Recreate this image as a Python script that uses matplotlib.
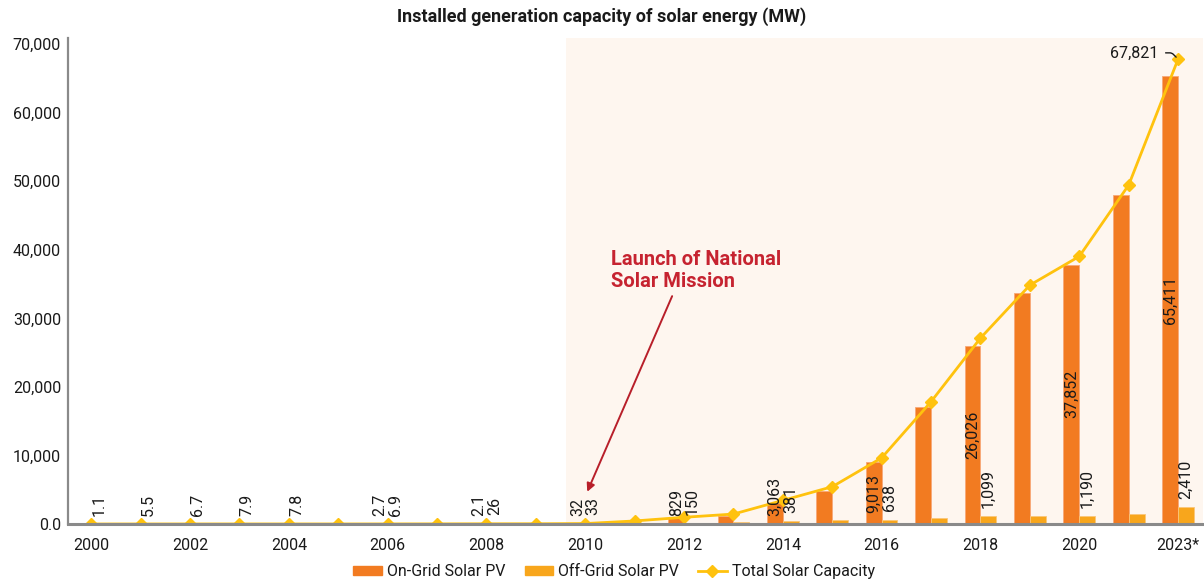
import matplotlib

matplotlib.use("Agg")
import matplotlib.pyplot as plt
import numpy as np
from matplotlib.lines import Line2D
from matplotlib.patches import Patch
from matplotlib.ticker import FuncFormatter

plt.rcParams["font.family"] = ["Roboto", "DejaVu Sans"]

# one slot per year 2000..2022, last one reported as 2023*
years = ["2000", "2001", "2002", "2003", "2004", "2005", "2006", "2007",
         "2008", "2009", "2010", "2011", "2012", "2013", "2014", "2015",
         "2016", "2017", "2018", "2019", "2020", "2021", "2023*"]
on_grid = [0, 0, 0, 0, 0, 0, 2.7, 2.5, 2.1, 3, 32, 360, 829, 1200, 3063,
           4880, 9013, 17000, 26026, 33700, 37852, 48000, 65411]
off_grid = [1.1, 5.5, 6.7, 7.9, 7.8, 5, 6.9, 15, 26, 30, 33, 85, 150, 250,
            381, 560, 638, 850, 1099, 1150, 1190, 1450, 2410]
# which values get printed on the chart
on_labelled = [6, 8, 10, 12, 14, 16, 18, 20, 22]
off_labelled = [0, 1, 2, 3, 4, 6, 8, 10, 12, 14, 16, 18, 20, 22]
mission_year = "2010"

ON_C = "#F27B21"
OFF_C = "#F8A61C"
LINE_C = "#FFC20E"
SHADE_C = "#FEF6EF"
RED = "#C62330"
TXT = "#1a1a1a"
FS = 11.5

x = np.arange(len(years))
on = np.array(on_grid, dtype=float)
off = np.array(off_grid, dtype=float)
total = on + off
w = 0.32


def fmt(v):
    return f"{v:.1f}" if v < 10 else f"{v:,.0f}"


fig = plt.figure(figsize=(12.04, 5.83), dpi=100, facecolor="white")
ax = fig.add_axes([0.0565, 0.1012, 0.9425, 0.8336])

i_mission = years.index(mission_year)
ax.axvspan(i_mission - 0.38, len(years), color=SHADE_C, zorder=0, lw=0)

ax.bar(x - w / 2, on, w, color=ON_C, edgecolor="#F7A878", linewidth=0.6, zorder=2)
ax.bar(x + w / 2, off, w, color=OFF_C, edgecolor="#FBC77A", linewidth=0.6, zorder=2)
ax.plot(x, total, color=LINE_C, lw=2, marker="D", ms=6.5, zorder=3)

# on-grid values: centred inside tall bars, otherwise just above the axis
for i in on_labelled:
    v = on[i]
    if v > 5000:
        ax.text(x[i] - w / 2, v / 2, fmt(v), rotation=90, ha="center", va="center",
                fontsize=FS, color=TXT, zorder=4)
    else:
        ax.annotate(fmt(v), (x[i] - w / 2, 0), xytext=(0, 6), textcoords="offset points",
                    rotation=90, ha="center", va="bottom", fontsize=FS, color=TXT, zorder=4)

for i in off_labelled:
    v = off[i]
    ax.annotate(fmt(v), (x[i] + w / 2, v), xytext=(0, 6), textcoords="offset points",
                rotation=90, ha="center", va="bottom", fontsize=FS, color=TXT, zorder=4)

# latest total with a small hooked leader
ax.annotate(fmt(total[-1]), (x[-1], total[-1]), xytext=(-14, 4.5), textcoords="offset points",
            ha="right", va="center", fontsize=FS, color=TXT, zorder=4,
            arrowprops=dict(arrowstyle="-", color=TXT, lw=1, shrinkA=3, shrinkB=2,
                            relpos=(1.0, 0.5),
                            connectionstyle="angle,angleA=0,angleB=135,rad=2"))

ax.annotate("Launch of National\nSolar Mission", xy=(i_mission + 0.04, 4700),
            xytext=(i_mission + 0.53, 40000), ha="left", va="top",
            fontsize=14.5, fontweight="bold", color=RED, linespacing=1.2,
            arrowprops=dict(arrowstyle="-|>", color="#B81F2A", lw=1.4, mutation_scale=12,
                            shrinkA=2, shrinkB=0, relpos=(0.37, 0.0)),
            zorder=5)

ax.set_xlim(-0.47, 22.5)
ax.set_ylim(0, 70900)
ax.set_yticks(np.arange(0, 70001, 10000))
ax.yaxis.set_major_formatter(FuncFormatter(lambda v, _p: "0.0" if v == 0 else f"{v:,.0f}"))
ax.set_xticks(x[::2])
ax.set_xticklabels(years[::2])
ax.tick_params(axis="both", length=0, labelsize=FS, colors=TXT)
ax.tick_params(axis="x", pad=10)
ax.tick_params(axis="y", pad=5)

for side in ("top", "right"):
    ax.spines[side].set_visible(False)
ax.spines["left"].set_color("#8a8a8a")
ax.spines["left"].set_linewidth(1.6)
ax.spines["bottom"].set_color("#8a8a8a")
ax.spines["bottom"].set_linewidth(2.2)
ax.spines["bottom"].set_zorder(3.5)

fig.text(0.5, 0.972, "Installed generation capacity of solar energy (MW)", ha="center",
         va="center", fontsize=13, fontweight="bold", color=TXT)

handles = [
    Patch(color=ON_C, label="On-Grid Solar PV"),
    Patch(color=OFF_C, label="Off-Grid Solar PV"),
    Line2D([], [], color=LINE_C, lw=2, marker="D", ms=6, label="Total Solar Capacity"),
]
fig.legend(handles=handles, loc="center", bbox_to_anchor=(0.51, 0.02), ncol=3,
           frameon=False, fontsize=FS, handlelength=1.8, handleheight=0.5,
           handletextpad=0.3, columnspacing=1.2, labelcolor=TXT)

fig.savefig("out.png", dpi=100, facecolor="white")
plt.close(fig)
